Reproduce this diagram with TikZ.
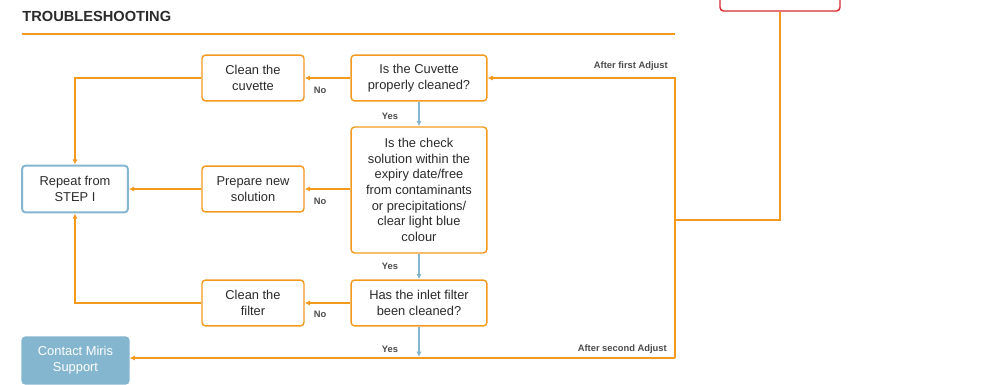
\documentclass[tikz,border=0pt]{standalone}
\usepackage{fontspec}
\setmainfont{Liberation Sans}
\usepackage{tikz}
\usetikzlibrary{arrows.meta}
\usetikzlibrary{positioning,calc}
\definecolor{mirisorange}{HTML}{F39A1E}
\definecolor{mirisblue}{HTML}{84B6CF}
\definecolor{mirisred}{HTML}{D42A2F}
\definecolor{mirisgrey}{HTML}{2B2B2B}
\tikzset{
    stepbox/.style={
        draw=mirisorange,
        rounded corners=2pt,
        line width=0.8pt,
        fill=white,
        align=center,
        text=mirisgrey,
        inner sep=1pt,
        font=\fontsize{7.3}{8.9}\selectfont
    },
    flow/.style={
        draw=mirisorange,
        line width=0.8pt,
        -{Latex[length=3pt, width=3pt]}
    },
    yesflow/.style={
        draw=mirisblue,
        line width=0.8pt,
        -{Latex[length=3pt, width=3pt]}
    },
    tag/.style={
        font=\fontsize{5.3}{6}\selectfont\bfseries,
        text=mirisgrey!85,
        inner sep=0pt
    }
}

\begin{document}
\begin{tikzpicture}[x=0.567pt, y=-0.567pt]
    \useasboundingbox (0,0) rectangle (987,385);

    % heading
    \node[anchor=west, font=\fontsize{8.3}{10}\selectfont\bfseries, text=mirisgrey, inner sep=0pt] (title) at (22,16) {TROUBLESHOOTING};
    \draw[mirisorange, line width=0.6pt] (22,34) -- (675,34);

    % questions
    \node[stepbox, minimum width=77pt, minimum height=26pt] (cuvq) at (419,78) {Is the Cuvette\\properly cleaned?};
    \node[stepbox, minimum width=77pt, minimum height=71.4pt] (solq) at (419,190) {Is the check\\solution within the\\expiry date/free\\from contaminants\\or precipitations/\\clear light blue\\colour};
    \node[stepbox, minimum width=77pt, minimum height=26pt] (filtq) at (419,303) {Has the inlet filter\\been cleaned?};

    % actions
    \node[stepbox, minimum width=57.8pt, minimum height=26pt] (cleancuv) at (253,78) {Clean the\\cuvette};
    \node[stepbox, minimum width=57.8pt, minimum height=26pt] (prepsol) at (253,189) {Prepare new\\solution};
    \node[stepbox, minimum width=57.8pt, minimum height=26pt] (cleanfilt) at (253,303) {Clean the\\filter};
    \node[stepbox, draw=mirisblue, line width=1.1pt, minimum width=60pt, minimum height=26.6pt] (repeat) at (75,189) {Repeat from\\STEP I};
    \node[stepbox, draw=mirisblue, fill=mirisblue, text=white, minimum width=60.6pt, minimum height=26.6pt] (contact) at (75.5,360.5) {Contact Miris\\Support};
    \node[stepbox, draw=mirisred, minimum width=68pt, minimum height=22.7pt] (redbox) at (780,-9) {};

    % loop points
    \coordinate (lowcorner) at (675,358);
    \coordinate (tap) at (675,220);
    \coordinate (yesend) at (419,357);

    % connectors
    \draw[flow] (cuvq) -- (cleancuv);
    \draw[flow] (cleancuv.west) -| (repeat.north);
    \draw[flow] (solq.west |- prepsol) -- (prepsol);
    \draw[flow] (prepsol) -- (repeat);
    \draw[flow] (filtq) -- (cleanfilt);
    \draw[flow] (cleanfilt.west) -| (repeat.south);
    \draw[yesflow] (cuvq) -- (solq);
    \draw[yesflow] (solq) -- (filtq);
    \draw[yesflow] (filtq) -- (yesend);
    \draw[flow] (lowcorner) -- (contact.east |- lowcorner);
    \draw[flow] (lowcorner) |- (cuvq.east);
    \draw[mirisorange, line width=0.8pt] (tap) -| (redbox.south);

    % labels
    \node[tag] (no1) at (320,90) {No};
    \node[tag] (no2) at (320,201) {No};
    \node[tag] (no3) at (320,314) {No};
    \node[tag] (yes1) at (390,116) {Yes};
    \node[tag] (yes2) at (390,266) {Yes};
    \node[tag] (yes3) at (390,349) {Yes};
    \node[tag, anchor=east] (first) at (668,66) {After first Adjust};
    \node[tag, anchor=east] (second) at (667,349) {After second Adjust};
\end{tikzpicture}
\end{document}
